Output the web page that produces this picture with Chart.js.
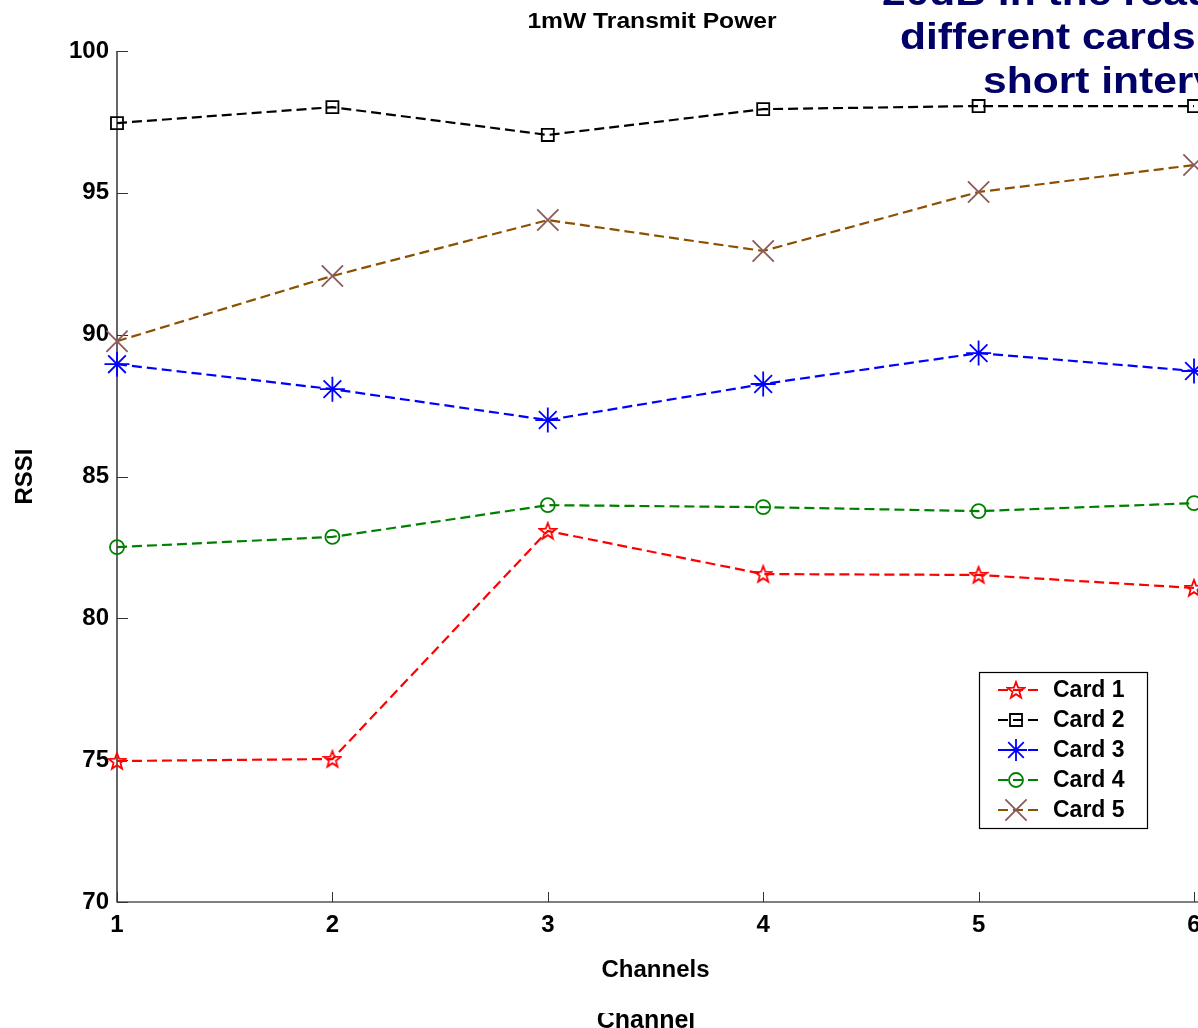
<!DOCTYPE html>
<html><head><meta charset="utf-8">
<script src="https://cdn.jsdelivr.net/npm/chart.js@4.4.0/dist/chart.umd.min.js"></script>
<style>html,body{margin:0;padding:0;background:#fff;overflow:hidden}canvas{display:block}</style>
</head><body>
<canvas id="c" width="1198" height="1028"></canvas>
<script>
const channels = [1, 2, 3, 4, 5, 6];
const card1 = [74.97, 75.04, 83.08, 81.56, 81.53, 81.07];
const card2 = [97.46, 98.02, 97.04, 97.95, 98.06, 98.06];
const card3 = [88.96, 88.08, 86.99, 88.26, 89.35, 88.72];
const card4 = [82.51, 82.87, 83.99, 83.92, 83.78, 84.06];
const card5 = [89.77, 92.07, 94.04, 92.95, 95.03, 95.98];
const seriesLabels = ['Card 1', 'Card 2', 'Card 3', 'Card 4', 'Card 5'];
const yTicks = [70, 75, 80, 85, 90, 95, 100];
const xTicks = [1, 2, 3, 4, 5, 6];
const chartTitle = '1mW Transmit Power';
const xTitle = 'Channels';
const yTitle = 'RSSI';
const overlayLines = ['20dB in the readings of', 'different cards over', 'short intervals'];
const footerText = 'Channel';

const FONT = '"Liberation Sans", Arial, Helvetica, sans-serif';

function makePentagram(color) {
  const c = document.createElement('canvas');
  c.width = 20; c.height = 20;
  const x = c.getContext('2d');
  x.strokeStyle = color; x.lineWidth = 1.8;
  x.beginPath();
  for (let i = 0; i < 10; i++) {
    const r = i % 2 ? 3.6 : 8.6;
    const a = -Math.PI / 2 + i * Math.PI / 5;
    const px = 10 + r * Math.cos(a), py = 10.6 + r * Math.sin(a);
    if (i) x.lineTo(px, py); else x.moveTo(px, py);
  }
  x.closePath(); x.stroke();
  return c;
}
const pentagram = makePentagram('#ff0000');

const seriesValues = [card1, card2, card3, card4, card5];
const seriesLine = ['#ff0000', '#000000', '#0000ff', '#008000', '#8b5000'];
const seriesMarkerColor = ['#ff0000', '#000000', '#0000ff', '#008000', '#8c5a5a'];
const seriesStyle = [pentagram, 'rect', 'star', 'circle', 'crossRot'];
const seriesRadius = [9, 8.5, 12.5, 7, 15];

const datasets = seriesLabels.map((lab, i) => ({
  label: lab,
  data: channels.map((c, j) => ({ x: c, y: seriesValues[i][j] })),
  borderColor: seriesLine[i],
  borderWidth: 2.2,
  borderDash: [10, 5],
  pointStyle: seriesStyle[i],
  pointRadius: seriesRadius[i],
  pointBorderColor: seriesMarkerColor[i],
  pointBackgroundColor: 'rgba(0,0,0,0)',
  pointBorderWidth: 1.8,
  fill: false,
  tension: 0,
  clip: false
}));

function drawMarker(ctx, style, color, r, x, y) {
  ctx.save();
  ctx.strokeStyle = color; ctx.lineWidth = 1.8; ctx.setLineDash([]);
  ctx.beginPath();
  if (typeof style !== 'string') {
    ctx.drawImage(style, x - style.width / 2, y - style.height / 2);
  } else if (style === 'rect') {
    const s = r * Math.SQRT1_2;
    ctx.rect(x - s, y - s, 2 * s, 2 * s);
  } else if (style === 'circle') {
    ctx.arc(x, y, r, 0, Math.PI * 2);
  } else if (style === 'star') {
    const d = r * Math.SQRT1_2;
    ctx.moveTo(x - r, y); ctx.lineTo(x + r, y);
    ctx.moveTo(x, y - r); ctx.lineTo(x, y + r);
    ctx.moveTo(x - d, y - d); ctx.lineTo(x + d, y + d);
    ctx.moveTo(x - d, y + d); ctx.lineTo(x + d, y - d);
  } else if (style === 'crossRot') {
    const d = r * Math.SQRT1_2;
    ctx.moveTo(x - d, y - d); ctx.lineTo(x + d, y + d);
    ctx.moveTo(x - d, y + d); ctx.lineTo(x + d, y - d);
  }
  ctx.stroke();
  ctx.restore();
}

const matlabPlugin = {
  id: 'matlab',
  beforeDatasetsDraw(chart) {
    const ctx = chart.ctx;
    const xs = chart.scales.x, ys = chart.scales.y;
    const L = chart.chartArea.left, B = chart.chartArea.bottom, T = chart.chartArea.top;
    ctx.save();
    ctx.strokeStyle = '#000'; ctx.lineWidth = 1.2;
    ctx.beginPath();
    ctx.moveTo(L, T); ctx.lineTo(L, B); ctx.lineTo(chart.width, B);
    ctx.stroke();
    ctx.strokeStyle = '#333'; ctx.lineWidth = 1;
    ctx.beginPath();
    yTicks.forEach(v => { const p = Math.round(ys.getPixelForValue(v)) + 0.5; ctx.moveTo(L, p); ctx.lineTo(L + 11, p); });
    xTicks.forEach(v => { const p = Math.round(xs.getPixelForValue(v)) + 0.5; ctx.moveTo(p, B); ctx.lineTo(p, B - 10); });
    ctx.stroke();
    // x tick labels
    ctx.fillStyle = '#000';
    ctx.font = 'bold 24px ' + FONT;
    ctx.textAlign = 'center'; ctx.textBaseline = 'middle';
    xTicks.forEach(v => { ctx.fillText(String(v), xs.getPixelForValue(v), B + 23); });
    ctx.restore();
  },
  afterDraw(chart) {
    const ctx = chart.ctx;
    ctx.save();
    // title
    ctx.fillStyle = '#000';
    ctx.font = 'bold 22px ' + FONT;
    ctx.textAlign = 'center'; ctx.textBaseline = 'alphabetic';
    ctx.save(); ctx.translate(652, 28); ctx.scale(1.12, 1); ctx.fillText(chartTitle, 0, 0); ctx.restore();
    // legend
    const bx = 979.5, by = 672.5, bw = 168, bh = 156;
    ctx.fillStyle = '#fff'; ctx.fillRect(bx, by, bw, bh);
    ctx.strokeStyle = '#000'; ctx.lineWidth = 1.2; ctx.strokeRect(bx, by, bw, bh);
    chart.data.datasets.forEach((ds, i) => {
      const y = 690 + i * 30;
      ctx.save();
      ctx.strokeStyle = ds.borderColor; ctx.lineWidth = 2.2; ctx.setLineDash([10, 5]);
      ctx.beginPath(); ctx.moveTo(998, y); ctx.lineTo(1040, y); ctx.stroke();
      ctx.restore();
      const r = ds.pointStyle === 'star' ? 11 : ds.pointRadius;
      drawMarker(ctx, ds.pointStyle, ds.pointBorderColor, r, 1016, y);
      ctx.fillStyle = '#000'; ctx.font = 'bold 23px ' + FONT;
      ctx.textAlign = 'left'; ctx.textBaseline = 'middle';
      ctx.fillText(ds.label, 1053, y + 1);
    });
    // overlay text
    ctx.fillStyle = '#000066';
    ctx.font = 'bold 37px ' + FONT;
    ctx.textAlign = 'left'; ctx.textBaseline = 'alphabetic';
    const ox = [882, 900, 983], oy = [5, 49, 93];
    overlayLines.forEach((t, i) => {
      ctx.save(); ctx.translate(ox[i], oy[i]); ctx.scale(1.15, 1); ctx.fillText(t, 0, 0); ctx.restore();
    });
    // footer (partly hidden behind figure)
    ctx.save();
    ctx.beginPath(); ctx.rect(0, 1013, chart.width, 20); ctx.clip();
    ctx.fillStyle = '#000';
    ctx.font = 'bold 25px ' + FONT;
    ctx.textAlign = 'center';
    ctx.fillText(footerText, 646, 1028);
    ctx.restore();
    ctx.restore();
  }
};

new Chart(document.getElementById('c'), {
  type: 'line',
  data: { datasets },
  plugins: [matlabPlugin],
  options: {
    responsive: false,
    animation: false,
    devicePixelRatio: 1,
    layout: { autoPadding: false, padding: { top: 51, right: 4, bottom: 40, left: 0 } },
    plugins: { legend: { display: false }, tooltip: { enabled: false }, title: { display: false } },
    scales: {
      x: {
        type: 'linear', min: 1, max: 6,
        afterFit: s => { s.height = 86; s.paddingLeft = 0; s.paddingRight = 0; },
        grid: { display: false, drawTicks: false },
        border: { display: false },
        ticks: { display: false },
        title: { display: true, text: xTitle, color: '#000', font: { family: FONT, size: 24, weight: 'bold' }, padding: { top: 4, bottom: 3 } }
      },
      y: {
        min: 70, max: 100,
        afterFit: s => { s.width = 117; s.paddingTop = 0; s.paddingBottom = 0; },
        afterBuildTicks: s => { s.ticks = yTicks.map(v => ({ value: v })); },
        grid: { display: false, drawTicks: false },
        border: { display: false },
        ticks: { color: '#000', font: { family: FONT, size: 24, weight: 'bold' }, padding: 8, autoSkip: false },
        title: { display: true, text: yTitle, color: '#000', font: { family: FONT, size: 24, weight: 'bold' }, padding: { top: 11, bottom: 0 } }
      }
    }
  }
});
</script>
</body></html>
